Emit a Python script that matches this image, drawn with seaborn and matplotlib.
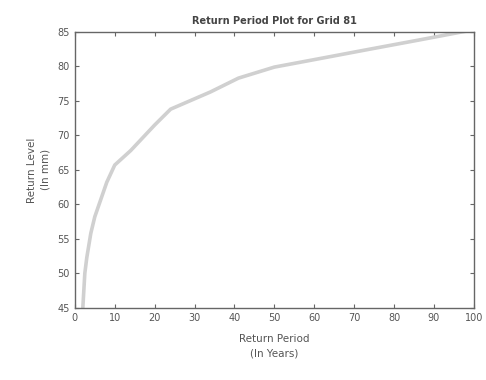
import matplotlib
matplotlib.use("Agg")
import matplotlib.pyplot as plt
import seaborn as sns
import pandas as pd

return_period = [2, 2.5, 3, 4, 5, 8, 10, 14, 20, 24, 30, 34, 41, 50, 62, 73, 86, 97, 100]
return_level = [45, 50, 52.3, 55.8, 58.2, 63.2, 65.7, 67.8, 71.5, 73.8, 75.3, 76.3, 78.3, 79.9, 81.2, 82.4, 83.8, 85.0, 85.3]
x_ticks = [0, 10, 20, 30, 40, 50, 60, 70, 80, 90, 100]
y_ticks = [45, 50, 55, 60, 65, 70, 75, 80, 85]

sns.set_style("white")
plt.rcParams['font.family'] = ['DejaVu Sans']

df = pd.DataFrame({"T": return_period, "L": return_level})

fig = plt.figure(figsize=(4.86, 3.8), dpi=100)
ax = fig.add_axes([0.154, 0.19, 0.821, 0.726])
sns.lineplot(data=df, x="T", y="L", ax=ax, color="#d0d0d0", linewidth=2.6, estimator=None, sort=False)

ax.set_xlim(0, 100)
ax.set_ylim(45, 85)
ax.set_xticks(x_ticks)
ax.set_yticks(y_ticks)
gray = "#555555"
for s in ax.spines.values():
    s.set_color("#666666")
    s.set_linewidth(1.0)
ax.tick_params(direction="in", length=3, width=0.8, colors="#666666", labelcolor=gray,
               labelsize=7, top=True, right=True, bottom=True, left=True)
ax.set_title("Return Period Plot for Grid 81", fontsize=7, fontweight="bold", color="#444444", pad=6)
ax.set_xlabel("Return Period\n(In Years)", fontsize=7.5, color=gray, labelpad=8, linespacing=1.6)
ax.set_ylabel("Return Level\n(In mm)", fontsize=7.5, color=gray, labelpad=5, linespacing=1.4)

fig.savefig("out.png", dpi=100, facecolor="white")
